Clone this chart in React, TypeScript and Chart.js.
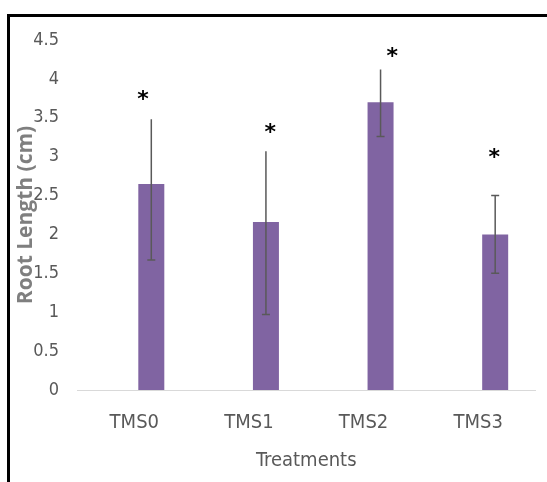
import React, { useEffect, useRef } from "react";
import { Chart, registerables } from "chart.js";

Chart.register(...registerables);

const categories = ["TMS0", "TMS1", "TMS2", "TMS3"];
const rootLength = [2.65, 2.16, 3.7, 2.0];
const errorHigh = [3.48, 3.07, 4.12, 2.5];
const errorLow = [1.67, 0.97, 3.26, 1.5];
const topCap = [false, false, false, true];
const starX = [0.075, 1.185, 2.25, 3.14];
const starY = [3.78, 3.36, 4.33, 3.03];
const emptySeries = [null, null, null, null];

const narrow = '"DejaVu Sans Condensed", "Liberation Sans Narrow", sans-serif';

const framePlugin = {
  id: "frame",
  beforeDraw(chart: any) {
    const ctx = chart.ctx;
    ctx.save();
    ctx.fillStyle = "#ffffff";
    ctx.fillRect(0, 0, chart.width, chart.height);
    ctx.fillStyle = "#000000";
    ctx.fillRect(7, 14, 3, chart.height - 14);
    ctx.fillRect(7, 14, chart.width - 7, 3);
    ctx.restore();
  },
};

const errorPlugin = {
  id: "errorBars",
  afterDatasetsDraw(chart: any) {
    const ctx = chart.ctx;
    const meta = chart.getDatasetMeta(1);
    const y = chart.scales.y;
    const x = chart.scales.x;
    ctx.save();
    ctx.strokeStyle = "#595959";
    ctx.lineWidth = 1.5;
    meta.data.forEach((bar: any, i: number) => {
      const cx = bar.x;
      const yh = y.getPixelForValue(errorHigh[i]);
      const yl = y.getPixelForValue(errorLow[i]);
      ctx.beginPath();
      ctx.moveTo(cx, yh);
      ctx.lineTo(cx, yl);
      ctx.moveTo(cx - 4, yl);
      ctx.lineTo(cx + 4, yl);
      if (topCap[i]) {
        ctx.moveTo(cx - 4, yh);
        ctx.lineTo(cx + 4, yh);
      }
      ctx.stroke();
    });
    ctx.fillStyle = "#000000";
    ctx.font = 'bold 22px "DejaVu Sans", sans-serif';
    ctx.textAlign = "center";
    ctx.textBaseline = "alphabetic";
    starX.forEach((sx, i) => {
      const px = x.getPixelForValue(sx);
      const py = y.getPixelForValue(starY[i]);
      ctx.fillText("*", px, py + 10);
    });
    ctx.restore();
  },
};

export default function App() {
  const ref = useRef<HTMLCanvasElement | null>(null);
  useEffect(() => {
    document.body.style.margin = "0";
    const canvas = ref.current;
    if (!canvas) return;
    const chart = new Chart(canvas, {
      type: "bar",
      data: {
        labels: categories,
        datasets: [
          {
            label: "",
            data: emptySeries,
            backgroundColor: "rgba(0,0,0,0)",
          },
          {
            label: "Root Length (cm)",
            data: rootLength,
            backgroundColor: "#8064a2",
          },
        ],
      },
      options: {
        animation: false,
        responsive: false,
        maintainAspectRatio: false,
        categoryPercentage: 0.593,
        barPercentage: 0.765,
        layout: { padding: { top: 40, right: 11.5, bottom: 0, left: 0 } },
        plugins: { legend: { display: false }, tooltip: { enabled: false } },
        scales: {
          x: {
            grid: { display: false, drawTicks: false },
            border: { display: true, color: "#d9d9d9", width: 1 },
            ticks: {
              color: "#595959",
              font: { family: narrow, size: 20 },
              padding: 21,
            },
            title: {
              display: true,
              text: "Treatments",
              color: "#595959",
              font: { family: narrow, size: 20 },
              padding: { top: 0, bottom: 9 },
            },
            afterFit(scale: any) {
              scale.height = 92;
            },
          },
          y: {
            min: 0,
            max: 4.5,
            ticks: {
              stepSize: 0.5,
              color: "#595959",
              font: { family: narrow, size: 18 },
              padding: 18,
              callback: (v: any) => String(v),
            },
            grid: { display: false, drawTicks: false },
            border: { display: false },
            title: {
              display: true,
              text: "Root Length (cm)",
              color: "#7f7f7f",
              font: { family: '"Open Sans", sans-serif', size: 21, weight: "bold" },
              padding: { top: 13, bottom: 0 },
            },
            afterFit(scale: any) {
              scale.width = 77;
            },
          },
        },
      },
      plugins: [framePlugin, errorPlugin],
    });
    return () => chart.destroy();
  }, []);
  return (
    <div style={{ width: 547, height: 482, overflow: "hidden" }}>
      <canvas ref={ref} width={547} height={482} style={{ display: "block" }} />
    </div>
  );
}
